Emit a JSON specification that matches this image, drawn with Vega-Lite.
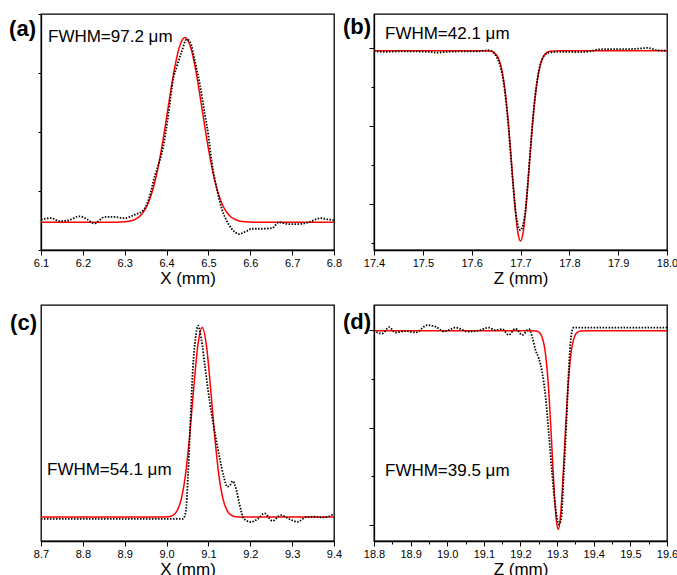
{
  "$schema": "https://vega.github.io/schema/vega-lite/v6.json",
  "padding": {"left": 8, "top": 12, "right": 5, "bottom": 5},
  "background": "white",
  "bounds": "flush",
  "columns": 2,
  "spacing": {"row": 55, "column": 40},
  "datasets": {
    "a_fit": [
      {"x": 6.10, "y": -0.03}, {"x": 6.28, "y": -0.029}, {"x": 6.30, "y": -0.023}, {"x": 6.31, "y": -0.014},
      {"x": 6.32, "y": 0.004}, {"x": 6.33, "y": 0.039}, {"x": 6.34, "y": 0.101}, {"x": 6.35, "y": 0.204},
      {"x": 6.36, "y": 0.365}, {"x": 6.37, "y": 0.598}, {"x": 6.38, "y": 0.911}, {"x": 6.39, "y": 1.300},
      {"x": 6.40, "y": 1.744}, {"x": 6.41, "y": 2.200}, {"x": 6.42, "y": 2.613}, {"x": 6.43, "y": 2.925},
      {"x": 6.437, "y": 3.055}, {"x": 6.444, "y": 3.10}, {"x": 6.451, "y": 3.055}, {"x": 6.46, "y": 2.873},
      {"x": 6.47, "y": 2.537}, {"x": 6.48, "y": 2.110}, {"x": 6.49, "y": 1.652}, {"x": 6.50, "y": 1.217},
      {"x": 6.51, "y": 0.842}, {"x": 6.52, "y": 0.545}, {"x": 6.53, "y": 0.327}, {"x": 6.54, "y": 0.179},
      {"x": 6.55, "y": 0.086}, {"x": 6.56, "y": 0.030}, {"x": 6.57, "y": 0.000}, {"x": 6.58, "y": -0.016},
      {"x": 6.60, "y": -0.027}, {"x": 6.62, "y": -0.03}, {"x": 6.80, "y": -0.03}
    ],
    "a_data": [
      {"x": 6.100, "y": 0.02}, {"x": 6.124, "y": 0.04}, {"x": 6.144, "y": -0.01}, {"x": 6.164, "y": 0.00},
      {"x": 6.192, "y": 0.07}, {"x": 6.208, "y": 0.03}, {"x": 6.228, "y": -0.05}, {"x": 6.252, "y": 0.06},
      {"x": 6.276, "y": 0.06}, {"x": 6.300, "y": 0.04}, {"x": 6.324, "y": 0.10}, {"x": 6.344, "y": 0.17},
      {"x": 6.360, "y": 0.42}, {"x": 6.372, "y": 0.76}, {"x": 6.380, "y": 0.93}, {"x": 6.392, "y": 1.25},
      {"x": 6.404, "y": 1.78}, {"x": 6.416, "y": 2.40}, {"x": 6.424, "y": 2.60}, {"x": 6.436, "y": 2.86},
      {"x": 6.448, "y": 3.07}, {"x": 6.456, "y": 3.03}, {"x": 6.468, "y": 2.69}, {"x": 6.480, "y": 2.29},
      {"x": 6.492, "y": 1.78}, {"x": 6.500, "y": 1.44}, {"x": 6.508, "y": 0.99}, {"x": 6.520, "y": 0.54},
      {"x": 6.532, "y": 0.20}, {"x": 6.548, "y": -0.06}, {"x": 6.564, "y": -0.20}, {"x": 6.572, "y": -0.23},
      {"x": 6.588, "y": -0.19}, {"x": 6.604, "y": -0.14}, {"x": 6.628, "y": -0.14}, {"x": 6.652, "y": -0.13},
      {"x": 6.668, "y": -0.03}, {"x": 6.692, "y": -0.06}, {"x": 6.716, "y": -0.06}, {"x": 6.740, "y": -0.03},
      {"x": 6.768, "y": 0.04}, {"x": 6.784, "y": 0.02}, {"x": 6.800, "y": 0.00}
    ],
    "b_fit": [
      {"x": 17.40, "y": 1.97}, {"x": 17.62, "y": 1.97}, {"x": 17.64, "y": 1.961}, {"x": 17.65, "y": 1.921},
      {"x": 17.655, "y": 1.868}, {"x": 17.66, "y": 1.770}, {"x": 17.665, "y": 1.611}, {"x": 17.67, "y": 1.373},
      {"x": 17.675, "y": 1.053}, {"x": 17.68, "y": 0.665}, {"x": 17.685, "y": 0.254}, {"x": 17.69, "y": -0.116},
      {"x": 17.695, "y": -0.376}, {"x": 17.70, "y": -0.47}, {"x": 17.705, "y": -0.376}, {"x": 17.71, "y": -0.116},
      {"x": 17.715, "y": 0.254}, {"x": 17.72, "y": 0.665}, {"x": 17.725, "y": 1.053}, {"x": 17.73, "y": 1.373},
      {"x": 17.735, "y": 1.611}, {"x": 17.74, "y": 1.770}, {"x": 17.745, "y": 1.868}, {"x": 17.75, "y": 1.921},
      {"x": 17.76, "y": 1.961}, {"x": 17.78, "y": 1.97}, {"x": 18.00, "y": 1.97}
    ],
    "b_data": [
      {"x": 17.40, "y": 1.965}, {"x": 17.42, "y": 1.955}, {"x": 17.45, "y": 1.96}, {"x": 17.48, "y": 1.96},
      {"x": 17.51, "y": 1.955}, {"x": 17.53, "y": 1.945}, {"x": 17.55, "y": 1.955}, {"x": 17.58, "y": 1.96},
      {"x": 17.61, "y": 1.96}, {"x": 17.635, "y": 1.975}, {"x": 17.645, "y": 1.945}, {"x": 17.65, "y": 1.90},
      {"x": 17.655, "y": 1.84}, {"x": 17.66, "y": 1.74}, {"x": 17.665, "y": 1.58}, {"x": 17.67, "y": 1.34},
      {"x": 17.675, "y": 1.02}, {"x": 17.68, "y": 0.63}, {"x": 17.685, "y": 0.24}, {"x": 17.69, "y": -0.09},
      {"x": 17.695, "y": -0.28}, {"x": 17.70, "y": -0.33}, {"x": 17.705, "y": -0.27}, {"x": 17.71, "y": -0.08},
      {"x": 17.715, "y": 0.27}, {"x": 17.72, "y": 0.68}, {"x": 17.725, "y": 1.07}, {"x": 17.73, "y": 1.39},
      {"x": 17.735, "y": 1.62}, {"x": 17.74, "y": 1.78}, {"x": 17.745, "y": 1.87}, {"x": 17.75, "y": 1.92},
      {"x": 17.76, "y": 1.945}, {"x": 17.78, "y": 1.955}, {"x": 17.80, "y": 1.955}, {"x": 17.82, "y": 1.95},
      {"x": 17.84, "y": 1.96}, {"x": 17.86, "y": 1.985}, {"x": 17.88, "y": 1.99}, {"x": 17.90, "y": 1.99},
      {"x": 17.92, "y": 1.99}, {"x": 17.94, "y": 1.995}, {"x": 17.96, "y": 2.005}, {"x": 17.98, "y": 1.975},
      {"x": 18.00, "y": 1.97}
    ],
    "c_fit": [
      {"x": 8.70, "y": 0}, {"x": 8.98, "y": 0}, {"x": 9.005, "y": 0.0023}, {"x": 9.015, "y": 0.0097},
      {"x": 9.025, "y": 0.0331}, {"x": 9.035, "y": 0.0937}, {"x": 9.045, "y": 0.2198}, {"x": 9.055, "y": 0.4265},
      {"x": 9.065, "y": 0.6846}, {"x": 9.075, "y": 0.9097}, {"x": 9.085, "y": 1.0}, {"x": 9.095, "y": 0.9097},
      {"x": 9.105, "y": 0.6846}, {"x": 9.115, "y": 0.4265}, {"x": 9.125, "y": 0.2198}, {"x": 9.135, "y": 0.0937},
      {"x": 9.145, "y": 0.0331}, {"x": 9.155, "y": 0.0097}, {"x": 9.165, "y": 0.0023}, {"x": 9.19, "y": 0},
      {"x": 9.40, "y": 0}
    ],
    "c_data": [
      {"x": 8.70, "y": -0.009}, {"x": 9.00, "y": -0.009}, {"x": 9.039, "y": -0.009}, {"x": 9.046, "y": 0.03},
      {"x": 9.051, "y": 0.21}, {"x": 9.055, "y": 0.40}, {"x": 9.059, "y": 0.61}, {"x": 9.063, "y": 0.79},
      {"x": 9.069, "y": 0.94}, {"x": 9.075, "y": 1.01}, {"x": 9.083, "y": 0.94}, {"x": 9.092, "y": 0.79},
      {"x": 9.103, "y": 0.61}, {"x": 9.115, "y": 0.45}, {"x": 9.127, "y": 0.31}, {"x": 9.137, "y": 0.21},
      {"x": 9.145, "y": 0.16}, {"x": 9.152, "y": 0.17}, {"x": 9.158, "y": 0.19}, {"x": 9.166, "y": 0.15},
      {"x": 9.174, "y": 0.07}, {"x": 9.185, "y": -0.01}, {"x": 9.202, "y": -0.026}, {"x": 9.218, "y": -0.009},
      {"x": 9.234, "y": 0.02}, {"x": 9.253, "y": -0.02}, {"x": 9.273, "y": 0.01}, {"x": 9.293, "y": -0.01},
      {"x": 9.313, "y": -0.025}, {"x": 9.333, "y": 0}, {"x": 9.353, "y": 0.002}, {"x": 9.372, "y": -0.002},
      {"x": 9.388, "y": 0.004}, {"x": 9.40, "y": 0.018}
    ],
    "d_fit": [
      {"x": 18.80, "y": 3.986}, {"x": 19.22, "y": 3.986}, {"x": 19.243, "y": 3.979}, {"x": 19.253, "y": 3.938},
      {"x": 19.258, "y": 3.875}, {"x": 19.263, "y": 3.748}, {"x": 19.268, "y": 3.524}, {"x": 19.273, "y": 3.163},
      {"x": 19.278, "y": 2.644}, {"x": 19.283, "y": 1.984}, {"x": 19.288, "y": 1.255}, {"x": 19.293, "y": 0.574},
      {"x": 19.298, "y": 0.088}, {"x": 19.303, "y": -0.089}, {"x": 19.308, "y": 0.088}, {"x": 19.313, "y": 0.574},
      {"x": 19.318, "y": 1.255}, {"x": 19.323, "y": 1.984}, {"x": 19.328, "y": 2.644}, {"x": 19.333, "y": 3.163},
      {"x": 19.338, "y": 3.524}, {"x": 19.343, "y": 3.748}, {"x": 19.348, "y": 3.875}, {"x": 19.353, "y": 3.938},
      {"x": 19.363, "y": 3.979}, {"x": 19.39, "y": 3.986}, {"x": 19.60, "y": 3.986}
    ],
    "d_data": [
      {"x": 18.800, "y": 4.00}, {"x": 18.809, "y": 3.95}, {"x": 18.823, "y": 3.93}, {"x": 18.841, "y": 4.06},
      {"x": 18.859, "y": 3.95}, {"x": 18.886, "y": 3.98}, {"x": 18.914, "y": 3.95}, {"x": 18.945, "y": 4.10},
      {"x": 18.968, "y": 4.07}, {"x": 18.991, "y": 3.97}, {"x": 19.023, "y": 4.05}, {"x": 19.055, "y": 3.97},
      {"x": 19.086, "y": 3.99}, {"x": 19.112, "y": 4.05}, {"x": 19.132, "y": 4.00}, {"x": 19.150, "y": 4.02},
      {"x": 19.168, "y": 3.90}, {"x": 19.186, "y": 4.03}, {"x": 19.205, "y": 3.90}, {"x": 19.223, "y": 4.02},
      {"x": 19.232, "y": 3.86}, {"x": 19.241, "y": 3.59}, {"x": 19.250, "y": 3.42}, {"x": 19.259, "y": 3.14},
      {"x": 19.268, "y": 2.66}, {"x": 19.277, "y": 1.90}, {"x": 19.286, "y": 1.08}, {"x": 19.295, "y": 0.39},
      {"x": 19.305, "y": 0.01}, {"x": 19.311, "y": 0.12}, {"x": 19.318, "y": 1.01}, {"x": 19.325, "y": 2.04},
      {"x": 19.332, "y": 3.21}, {"x": 19.338, "y": 3.86}, {"x": 19.345, "y": 4.05}, {"x": 19.386, "y": 4.05},
      {"x": 19.600, "y": 4.05}
    ]
  },
  "concat": [
    {
      "width": 293, "height": 236,
      "layer": [
        {
          "data": {"name": "a_fit"},
          "mark": {"type": "line", "color": "#ff0000", "strokeWidth": 1.5, "interpolate": "monotone", "clip": true},
          "encoding": {
            "x": {"field": "x", "type": "quantitative", "scale": {"domain": [6.1, 6.8], "nice": false, "zero": false},
              "axis": {"title": "X (mm)", "labelOverlap": false, "values": [6.1, 6.15, 6.2, 6.25, 6.3, 6.35, 6.4, 6.45, 6.5, 6.55, 6.6, 6.65, 6.7, 6.75, 6.8],
                "labelExpr": "abs(datum.value*10 - round(datum.value*10)) < 0.001 ? format(datum.value, '.1f') : ''",
                "tickSize": {"condition": {"test": "abs(datum.value*10 - round(datum.value*10)) < 0.001", "value": 5}, "value": 3}}},
            "y": {"field": "y", "type": "quantitative", "scale": {"domain": [-0.5, 3.5], "nice": false, "zero": false},
              "axis": {"title": null, "labels": false, "values": [-0.5, 0, 0.5, 1, 1.5, 2, 2.5, 3, 3.5],
                "tickSize": {"condition": {"test": "datum.value % 1 === 0", "value": 5}, "value": 3}}}
          }
        },
        {
          "data": {"name": "a_data"},
          "mark": {"type": "line", "color": "#000000", "strokeWidth": 1.8, "strokeDash": [1.5, 1.5], "interpolate": "monotone", "clip": true},
          "encoding": {"x": {"field": "x", "type": "quantitative"}, "y": {"field": "y", "type": "quantitative"}}
        },
        {
          "data": {"values": [{"label": "(a)"}]},
          "mark": {"type": "text", "align": "right", "baseline": "middle", "dx": -5, "fontSize": 22, "fontWeight": "bold", "font": "Liberation Sans"},
          "encoding": {"x": {"datum": 6.1}, "y": {"datum": 3.245}, "text": {"field": "label"}}
        },
        {
          "data": {"values": [{"label": "FWHM=97.2 μm"}]},
          "mark": {"type": "text", "align": "left", "baseline": "middle", "dx": 7, "fontSize": 17, "font": "Liberation Sans"},
          "encoding": {"x": {"datum": 6.1}, "y": {"datum": 3.108}, "text": {"field": "label"}}
        }
      ]
    },
    {
      "width": 293, "height": 236,
      "layer": [
        {
          "data": {"name": "b_fit"},
          "mark": {"type": "line", "color": "#ff0000", "strokeWidth": 1.5, "interpolate": "monotone", "clip": true},
          "encoding": {
            "x": {"field": "x", "type": "quantitative", "scale": {"domain": [17.4, 18.0], "nice": false, "zero": false},
              "axis": {"title": "Z (mm)", "labelOverlap": false, "values": [17.4, 17.45, 17.5, 17.55, 17.6, 17.65, 17.7, 17.75, 17.8, 17.85, 17.9, 17.95, 18.0],
                "labelExpr": "abs(datum.value*10 - round(datum.value*10)) < 0.001 ? format(datum.value, '.1f') : ''",
                "tickSize": {"condition": {"test": "abs(datum.value*10 - round(datum.value*10)) < 0.001", "value": 5}, "value": 3}}},
            "y": {"field": "y", "type": "quantitative", "scale": {"domain": [-0.586, 2.44], "nice": false, "zero": false},
              "axis": {"title": null, "labels": false, "values": [-0.5, 0, 0.5, 1, 1.5, 2],
                "tickSize": {"condition": {"test": "datum.value % 1 === 0", "value": 5}, "value": 3}}}
          }
        },
        {
          "data": {"name": "b_data"},
          "mark": {"type": "line", "color": "#000000", "strokeWidth": 1.8, "strokeDash": [1.5, 1.5], "interpolate": "monotone", "clip": true},
          "encoding": {"x": {"field": "x", "type": "quantitative"}, "y": {"field": "y", "type": "quantitative"}}
        },
        {
          "data": {"values": [{"label": "(b)"}]},
          "mark": {"type": "text", "align": "right", "baseline": "middle", "dx": -3, "fontSize": 22, "fontWeight": "bold", "font": "Liberation Sans"},
          "encoding": {"x": {"datum": 17.4}, "y": {"datum": 2.27}, "text": {"field": "label"}}
        },
        {
          "data": {"values": [{"label": "FWHM=42.1 μm"}]},
          "mark": {"type": "text", "align": "left", "baseline": "middle", "dx": 11, "fontSize": 17, "font": "Liberation Sans"},
          "encoding": {"x": {"datum": 17.4}, "y": {"datum": 2.184}, "text": {"field": "label"}}
        }
      ]
    },
    {
      "width": 293, "height": 236,
      "layer": [
        {
          "data": {"name": "c_fit"},
          "mark": {"type": "line", "color": "#ff0000", "strokeWidth": 1.5, "interpolate": "monotone", "clip": true},
          "encoding": {
            "x": {"field": "x", "type": "quantitative", "scale": {"domain": [8.7, 9.4], "nice": false, "zero": false},
              "axis": {"title": "X (mm)", "labelOverlap": false, "values": [8.7, 8.75, 8.8, 8.85, 8.9, 8.95, 9.0, 9.05, 9.1, 9.15, 9.2, 9.25, 9.3, 9.35, 9.4],
                "labelExpr": "abs(datum.value*10 - round(datum.value*10)) < 0.001 ? format(datum.value, '.1f') : ''",
                "tickSize": {"condition": {"test": "abs(datum.value*10 - round(datum.value*10)) < 0.001", "value": 5}, "value": 3}}},
            "y": {"field": "y", "type": "quantitative", "scale": {"domain": [-0.126, 1.119], "nice": false, "zero": false}, "axis": null}
          }
        },
        {
          "data": {"name": "c_data"},
          "mark": {"type": "line", "color": "#000000", "strokeWidth": 1.8, "strokeDash": [1.5, 1.5], "interpolate": "monotone", "clip": true},
          "encoding": {"x": {"field": "x", "type": "quantitative"}, "y": {"field": "y", "type": "quantitative"}}
        },
        {
          "data": {"values": [{"label": "(c)"}]},
          "mark": {"type": "text", "align": "right", "baseline": "middle", "dx": -4, "fontSize": 22, "fontWeight": "bold", "font": "Liberation Sans"},
          "encoding": {"x": {"datum": 8.7}, "y": {"datum": 1.023}, "text": {"field": "label"}}
        },
        {
          "data": {"values": [{"label": "FWHM=54.1 μm"}]},
          "mark": {"type": "text", "align": "left", "baseline": "middle", "dx": 6, "fontSize": 17, "font": "Liberation Sans"},
          "encoding": {"x": {"datum": 8.7}, "y": {"datum": 0.251}, "text": {"field": "label"}}
        }
      ]
    },
    {
      "width": 293, "height": 236,
      "resolve": {"axis": {"x": "independent"}},
      "layer": [
        {
          "data": {"name": "d_fit"},
          "mark": {"type": "line", "color": "#ff0000", "strokeWidth": 1.5, "interpolate": "monotone", "clip": true},
          "encoding": {
            "x": {"field": "x", "type": "quantitative", "scale": {"domain": [18.8, 19.6], "nice": false, "zero": false},
              "axis": {"title": "Z (mm)", "orient": "bottom", "labelOverlap": false, "format": ".1f", "tickSize": 5,
                "values": [18.8, 18.9, 19.0, 19.1, 19.2, 19.3, 19.4, 19.5, 19.6]}},
            "y": {"field": "y", "type": "quantitative", "scale": {"domain": [-0.33, 4.515], "nice": false, "zero": false},
              "axis": {"title": null, "labels": false, "values": [0, 1, 2, 3, 4],
                "tickSize": {"condition": {"test": "datum.value % 2 === 0", "value": 5}, "value": 3}}}
          }
        },
        {
          "data": {"name": "d_data"},
          "mark": {"type": "line", "color": "#000000", "strokeWidth": 1.8, "strokeDash": [1.5, 1.5], "interpolate": "monotone", "clip": true},
          "encoding": {
            "x": {"field": "x", "type": "quantitative",
              "axis": {"title": null, "orient": "bottom", "labels": false, "domain": false, "tickSize": 3,
                "values": [18.85, 18.95, 19.05, 19.15, 19.25, 19.35, 19.45, 19.55]}},
            "y": {"field": "y", "type": "quantitative"}
          }
        },
        {
          "data": {"values": [{"label": "(d)"}]},
          "mark": {"type": "text", "align": "right", "baseline": "middle", "dx": -3, "fontSize": 22, "fontWeight": "bold", "font": "Liberation Sans"},
          "encoding": {"x": {"datum": 18.8, "axis": null}, "y": {"datum": 4.158}, "text": {"field": "label"}}
        },
        {
          "data": {"values": [{"label": "FWHM=39.5 μm"}]},
          "mark": {"type": "text", "align": "left", "baseline": "middle", "dx": 11, "fontSize": 17, "font": "Liberation Sans"},
          "encoding": {"x": {"datum": 18.8, "axis": null}, "y": {"datum": 1.10}, "text": {"field": "label"}}
        }
      ]
    }
  ],
  "config": {
    "view": {"stroke": "#000000", "strokeWidth": 1.3},
    "axis": {
      "domainColor": "#000000", "domainWidth": 1.3, "tickColor": "#000000", "tickWidth": 1,
      "labelFont": "Liberation Sans", "labelFontSize": 11, "labelColor": "#000000", "labelPadding": 2,
      "titleFont": "Liberation Sans", "titleFontSize": 17, "titleFontWeight": "normal", "titleColor": "#000000", "titlePadding": 2,
      "grid": false, "labelFlush": false, "labelOverlap": false, "labelBound": false
    },
    "text": {"font": "Liberation Sans", "color": "#000000"}
  }
}
